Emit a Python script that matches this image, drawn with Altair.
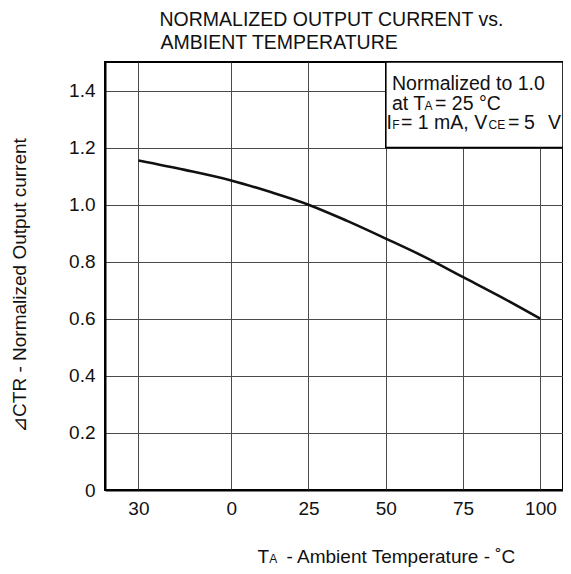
import altair as alt
import pandas as pd

# ---- data ----
temps = [-30, -15, 0, 12.5, 25, 37.5, 50, 62.5, 75, 87.5, 100]
ctr = [1.155, 1.122, 1.085, 1.045, 1.0, 0.943, 0.881, 0.817, 0.746, 0.675, 0.600]

x_ticks = [-30, 0, 25, 50, 75, 100]
x_tick_labels = ["30", "0", "25", "50", "75", "100"]
y_ticks = [0, 0.2, 0.4, 0.6, 0.8, 1.0, 1.2, 1.4]
y_tick_labels = ["0", "0.2", "0.4", "0.6", "0.8", "1.0", "1.2", "1.4"]

x_domain = [-40.8, 107.3]
y_domain = [0, 1.5]

note_box_x = [50, 107.3]
note_box_y = [1.2, 1.5]

title_lines = ["NORMALIZED OUTPUT CURRENT vs.", "AMBIENT TEMPERATURE"]
y_title = "\u22bfCTR - Normalized Output current"

FONT = "Liberation Sans, Arial, DejaVu Sans, sans-serif"
INK = "#111111"
W, H = 458, 428


def label_expr(vals, labels):
    expr = "datum.label"
    for v, l in zip(vals, labels):
        expr = f"datum.value == {v} ? '{l}' : ({expr})"
    return expr


# shift "30" (its minus sign is lost in the reference) slightly right
x_labels_disp = ["\u00a0\u00a0" + l if v < 0 else l for v, l in zip(x_ticks, x_tick_labels)]

curve_df = pd.DataFrame({"t": temps, "ctr": ctr})
box_df = pd.DataFrame({"t": [note_box_x[0]], "t2": [note_box_x[1]],
                       "ctr": [note_box_y[0]], "ctr2": [note_box_y[1]]})

xscale = alt.Scale(domain=x_domain, nice=False, zero=False)
yscale = alt.Scale(domain=y_domain, nice=False)

x_axis = alt.Axis(values=x_ticks, labelExpr=label_expr(x_ticks, x_labels_disp),
                  grid=True, gridColor="#4a4a4a", gridWidth=1, ticks=False, tickSize=0,
                  domain=True, domainColor="black", domainWidth=2,
                  labelFontSize=19, labelFont=FONT, labelColor=INK, labelPadding=9,
                  labelFlush=False, labelOverlap=False, title=None)
y_axis = alt.Axis(values=y_ticks, labelExpr=label_expr(y_ticks, y_tick_labels),
                  grid=True, gridColor="#4a4a4a", gridWidth=1, ticks=False, tickSize=0,
                  domain=True, domainColor="black", domainWidth=2,
                  labelFontSize=19, labelFont=FONT, labelColor=INK, labelPadding=10,
                  labelFlush=False, labelOverlap=False,
                  title=y_title, titleFont=FONT, titleFontSize=19, titleFontWeight="normal",
                  titleColor=INK, titleX=-85.5, titleY=223, titleAngle=270,
                  titleAlign="center", titleBaseline="middle")

X = alt.X("t:Q", scale=xscale, axis=x_axis)
Y = alt.Y("ctr:Q", scale=yscale, axis=y_axis)

line = alt.Chart(curve_df).mark_line(color=INK, strokeWidth=2.6, interpolate="monotone").encode(
    x=X, y=Y,
)

box = alt.Chart(box_df).mark_rect(fill="white", stroke="black", strokeWidth=1.6).encode(
    x=X, x2="t2:Q", y=Y, y2="ctr2:Q",
)

one = alt.Data(values=[{}])


def txt(s, x, y, size, align="left"):
    return alt.Chart(one).mark_text(text=s, font=FONT, fontSize=size, color=INK,
                                    align=align, baseline="alphabetic").encode(
        x=alt.value(x), y=alt.value(y))


BIG, SUB = 19.5, 12
pieces = [
    # chart title
    (title_lines[0], 54.5, -36.2, 19.5, "left"),
    (title_lines[1], 55.5, -12.6, 19.5, "left"),
    # note box
    ("Normalized to 1.0", 287, 27.5, BIG, "left"),
    ("at T", 287, 47.8, BIG, "left"),
    ("A", 319.5, 47.8, SUB, "left"),
    ("= 25 \u00b0C", 330, 47.8, BIG, "left"),
    ("I", 281.5, 67.3, BIG, "left"),
    ("F", 287.3, 67.3, SUB, "left"),
    ("= 1 mA, V", 296, 67.3, BIG, "left"),
    ("CE", 383.5, 67.3, SUB, "left"),
    ("=", 403, 67.3, BIG, "left"),
    ("5", 419, 67.3, BIG, "left"),
    ("V", 456, 67.3, BIG, "right"),
    # x axis title
    ("T", 152.5, 501.3, 19, "left"),
    ("A", 164.3, 501.3, SUB, "left"),
    ("- Ambient Temperature - \u02daC", 181.5, 501.3, 19, "left"),
]

texts = [txt(*p) for p in pieces]

chart = alt.layer(box, line, *texts).properties(
    width=W, height=H,
    autosize=alt.AutoSizeParams(type="none"),
    padding={"left": 97, "top": 54, "right": 0, "bottom": 78},
    background="white",
).configure_view(stroke="black", strokeWidth=2)

chart.save("out.html", embed_options={"renderer": "svg", "actions": False})
